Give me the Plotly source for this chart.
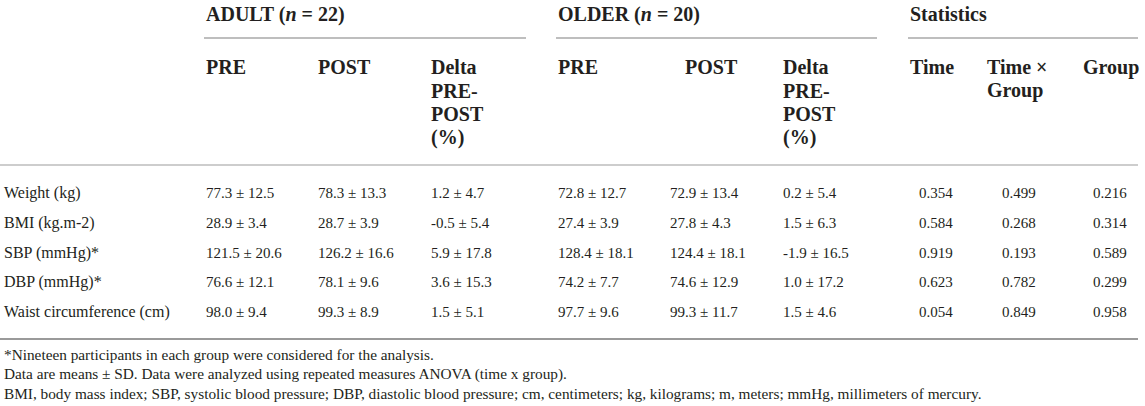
import plotly.graph_objects as go

# table content
row_labels = ["Weight (kg)", "BMI (kg.m-2)", "SBP (mmHg)*", "DBP (mmHg)*", "Waist circumference (cm)"]

adult_pre_mean = [77.3, 28.9, 121.5, 76.6, 98.0]
adult_pre_sd = [12.5, 3.4, 20.6, 12.1, 9.4]
adult_post_mean = [78.3, 28.7, 126.2, 78.1, 99.3]
adult_post_sd = [13.3, 3.9, 16.6, 9.6, 8.9]
adult_delta_mean = [1.2, -0.5, 5.9, 3.6, 1.5]
adult_delta_sd = [4.7, 5.4, 17.8, 15.3, 5.1]

older_pre_mean = [72.8, 27.4, 128.4, 74.2, 97.7]
older_pre_sd = [12.7, 3.9, 18.1, 7.7, 9.6]
older_post_mean = [72.9, 27.8, 124.4, 74.6, 99.3]
older_post_sd = [13.4, 4.3, 18.1, 12.9, 11.7]
older_delta_mean = [0.2, 1.5, -1.9, 1.0, 1.5]
older_delta_sd = [5.4, 6.3, 16.5, 17.2, 4.6]

p_time = [0.354, 0.584, 0.919, 0.623, 0.054]
p_interaction = [0.499, 0.268, 0.193, 0.782, 0.849]
p_group = [0.216, 0.314, 0.589, 0.299, 0.958]

group_headers = ["ADULT (<i>n</i> = 22)", "OLDER (<i>n</i> = 20)", "Statistics"]
col_headers = ["PRE", "POST", "Delta<br>PRE-<br>POST<br>(%)",
               "PRE", "POST", "Delta<br>PRE-<br>POST<br>(%)",
               "Time", "Time ×<br>Group", "Group"]

footnotes = [
    "*Nineteen participants in each group were considered for the analysis.",
    "Data are means ± SD. Data were analyzed using repeated measures ANOVA (time x group).",
    "BMI, body mass index; SBP, systolic blood pressure; DBP, diastolic blood pressure; cm, centimeters; "
    "kg, kilograms; m, meters; mmHg, millimeters of mercury.",
]

W, H = 1145, 406
FONT = "Liberation Serif"
INK = "#231f20"


def pm(means, sds):
    return [f"{m:.1f} ± {s:.1f}" for m, s in zip(means, sds)]


columns = [
    pm(adult_pre_mean, adult_pre_sd), pm(adult_post_mean, adult_post_sd), pm(adult_delta_mean, adult_delta_sd),
    pm(older_pre_mean, older_pre_sd), pm(older_post_mean, older_post_sd), pm(older_delta_mean, older_delta_sd),
    [f"{p:.3f}" for p in p_time], [f"{p:.3f}" for p in p_interaction], [f"{p:.3f}" for p in p_group],
]

# layout positions (pixels)
group_x = [204, 556, 908]
group_end = [526, 877, 1138]
header_x = [204, 316, 429, 556, 683, 781, 908, 985, 1081]
value_x = [204, 316, 429, 556, 668, 781, 936, 1019, 1110]
value_anchor = ["left"] * 6 + ["center"] * 3
row_y0, row_step = 193, 29.8
head_y0, head_step = 67, 23.6
foot_y = [354, 374, 393]

ann = []
for gx, txt in zip(group_x, group_headers):
    ann.append(dict(x=gx, y=14, text=f"<b>{txt}</b>", xanchor="left", font=dict(size=20)))

for hx, txt in zip(header_x, col_headers):
    for k, line in enumerate(txt.split("<br>")):
        ann.append(dict(x=hx, y=head_y0 + k * head_step, text=f"<b>{line}</b>", xanchor="left",
                        font=dict(size=20)))

for i, lab in enumerate(row_labels):
    y = row_y0 + i * row_step
    ann.append(dict(x=2, y=y, text=lab, xanchor="left", font=dict(size=16)))
    for cx, anc, col in zip(value_x, value_anchor, columns):
        ann.append(dict(x=cx, y=y, text=col[i], xanchor=anc, font=dict(size=15)))

for fy, txt in zip(foot_y, footnotes):
    ann.append(dict(x=2, y=fy, text=txt, xanchor="left", font=dict(size=15.3)))

for a in ann:
    a.update(xref="x", yref="y", yanchor="middle", showarrow=False)
    a["font"].update(family=FONT, color=INK)

shapes = []
for x0, x1 in zip(group_x, group_end):
    shapes.append(dict(type="line", x0=x0, x1=x1, y0=38, y1=38, line=dict(color="#a8a8a8", width=1.5)))
shapes.append(dict(type="line", x0=0, x1=1138, y0=165, y1=165, line=dict(color="#bdbdbd", width=1.5)))
shapes.append(dict(type="line", x0=0, x1=1138, y0=339, y1=339, line=dict(color="#9a9a9a", width=2)))
for s in shapes:
    s.update(xref="x", yref="y")

fig = go.Figure()
fig.update_layout(
    width=W, height=H,
    margin=dict(l=0, r=0, t=0, b=0),
    paper_bgcolor="white", plot_bgcolor="white",
    xaxis=dict(range=[0, W], visible=False, fixedrange=True),
    yaxis=dict(range=[H, 0], visible=False, fixedrange=True),
    annotations=ann, shapes=shapes,
    showlegend=False,
)

# the page body has a default 8px margin; drop it so the figure fills the window
fig.write_html("out.html", config={"displayModeBar": False},
               post_script="document.body.style.margin='0';")
